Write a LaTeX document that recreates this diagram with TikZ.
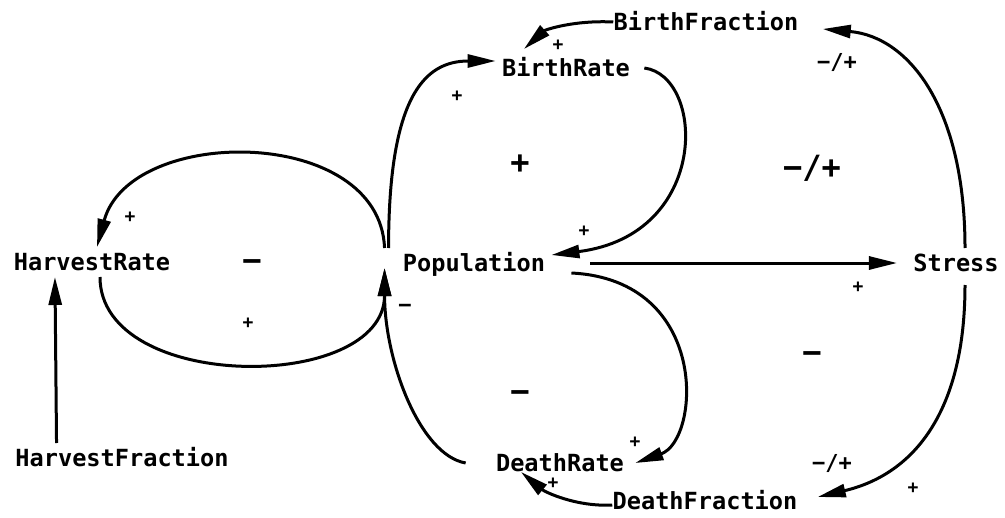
\documentclass[tikz,border=0pt]{standalone}
\usepackage{fontspec}
\setmainfont{DejaVu Sans Mono}
\usetikzlibrary{arrows.meta}

\begin{document}
\begin{tikzpicture}[x=0.5pt, y=-0.5pt,
    var/.style={inner sep=3pt, text height=8.6pt, text depth=0pt, font=\bfseries\fontsize{11.8}{14}\selectfont},
    arr/.style={-{Triangle[length=14pt, width=6.5pt]}, line width=1.5pt},
    sgn/.style={inner sep=0pt, font=\bfseries\fontsize{9}{10}\selectfont},
    midsgn/.style={inner sep=0pt, font=\bfseries\fontsize{11}{12}\selectfont},
    bigsgn/.style={inner sep=0pt, font=\bfseries\fontsize{16}{17}\selectfont}]
    \useasboundingbox (0,0) rectangle (1005,518);
    % variables
    \node[var] (hr) at (92,262) {HarvestRate};
    \node[var] (hf) at (122,458) {HarvestFraction};
    \node[var] (pop) at (474,263) {Population};
    \node[var] (br) at (566,68) {BirthRate};
    \node[var] (bf) at (706,22) {BirthFraction};
    \node[var] (st) at (956,263) {Stress};
    \node[var] (dr) at (560,463) {DeathRate};
    \node[var] (df) at (705,501) {DeathFraction};
    % links
    \draw[arr] ([xshift=23.75pt]hf.north west) -- ([xshift=23.75pt]hr.south west);
    \draw[arr] ([xshift=-6pt]pop.north west) .. controls +(-5,-123) and +(33,-122) .. ([xshift=2.5pt]hr.north);
    \draw[arr] ([xshift=4pt]hr.south) .. controls +(0,116) and +(0,125) .. ([shift={(-6pt,-2.5pt)}]pop.west);
    \draw[arr] ([xshift=-4pt]pop.north west) .. controls +(0,-148) and +(-73,0) .. ([yshift=3.5pt]br.west);
    \draw[arr] ([xshift=4pt]br.east) .. controls +(61,8) and +(159,-20) .. ([yshift=4pt]pop.east);
    \draw[arr] ([xshift=19.5pt]pop.east) -- ([xshift=-5pt]st.west);
    \draw[arr] ([shift={(10pt,2.5pt)}]pop.south east) .. controls +(139,7) and +(65,-23) .. ([xshift=2.5pt]dr.east);
    \draw[arr] ([xshift=-12pt]dr.west) .. controls +(-46,-8) and +(0,92) .. ([shift={(-6pt,-2.5pt)}]pop.west);
    \draw[arr] ([xshift=3pt]bf.west) .. controls +(-40,-2) and +(21,-19) .. ([shift={(-21pt,2pt)}]br.north);
    \draw[arr] ([xshift=4.5pt]st.north) .. controls +(0,-138) and +(87.5,8) .. ([shift={(9pt,-3.5pt)}]bf.east);
    \draw[arr] ([shift={(4.5pt,-3.5pt)}]st.south) .. controls +(0,125) and +(97.5,-23) .. ([shift={(7pt,2pt)}]df.east);
    \draw[arr] ([shift={(3pt,-2pt)}]df.west) .. controls +(-36,2) and +(24,20) .. ([shift={(-19.5pt,3pt)}]dr.south);
    % link polarities
    \node[sgn] (pHarvTop) at (130,217) {+};
    \node[sgn] (pHarvBot) at (248,323) {+};
    \node[sgn] (pBirthIn) at (457,96) {+};
    \node[sgn] (pBirthFr) at (558,45) {+};
    \node[sgn] (pBirthOut) at (584,231) {+};
    \node[sgn] (pDeathIn) at (635,442) {+};
    \node[sgn] (pDeathFr) at (553,483) {+};
    \node[sgn] (pStress) at (858,287) {+};
    \node[sgn] (pStressDf) at (913,488) {+};
    \node[midsgn] (pDeathOut) at (405,308) {−};
    \node[midsgn] (pStressBf) at (837,63) {−/+};
    \node[midsgn] (pStressDfb) at (832,463) {−/+};
    % loop polarities
    \node[bigsgn] (lHarv) at (252,266) {−};
    \node[bigsgn] (lBirth) at (520,164) {+};
    \node[bigsgn] (lBirthSt) at (812,168) {−/+};
    \node[bigsgn] (lDeath) at (520,397) {−};
    \node[bigsgn] (lDeathSt) at (812,358) {−};
\end{tikzpicture}
\end{document}
